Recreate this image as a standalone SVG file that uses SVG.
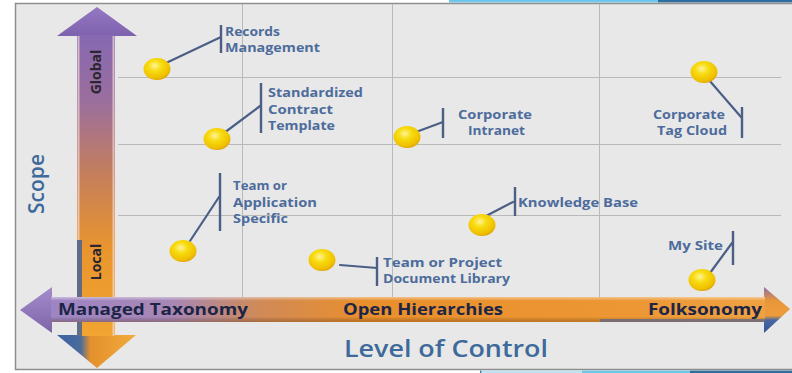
<svg xmlns="http://www.w3.org/2000/svg" width="792" height="373" viewBox="0 0 792 373">
  <style>
    .grid { stroke: #b9b9b9; stroke-width: 1; fill: none; }
    .lead { stroke: #4b5f86; stroke-width: 2.2; fill: none; stroke-linecap: round; }
    .brk { stroke: #4b5f86; stroke-width: 2.4; fill: none; }
    .lbl { font-family: "Open Sans", "Liberation Sans", sans-serif; font-weight: 700; font-size: 12px; fill: #4d6c9c; }
    .axis { font-family: "Open Sans", "Liberation Sans", sans-serif; font-weight: 700; font-size: 16px; fill: #1d2546; }
    .tick { font-family: "Open Sans", "Liberation Sans", sans-serif; font-weight: 700; font-size: 14px; fill: #2b2630; }
    .title { font-family: "Open Sans", "Liberation Sans", sans-serif; font-weight: 600; font-size: 24px; fill: #3d6a9b; }
  </style>
  <defs>
    <radialGradient id="dot" cx="0.42" cy="0.35" r="0.7">
      <stop offset="0" stop-color="#fff39a"/>
      <stop offset="0.35" stop-color="#f8dc10"/>
      <stop offset="0.8" stop-color="#efbf00"/>
      <stop offset="1" stop-color="#d99a00"/>
    </radialGradient>
    <linearGradient id="vshaft" x1="0" y1="36" x2="0" y2="340" gradientUnits="userSpaceOnUse">
      <stop offset="0" stop-color="#8668b2"/>
      <stop offset="0.22" stop-color="#9c6f9c"/>
      <stop offset="0.45" stop-color="#c47e5c"/>
      <stop offset="0.7" stop-color="#e9952e"/>
      <stop offset="1" stop-color="#f2a632"/>
    </linearGradient>
    <linearGradient id="vtop" x1="0" y1="7" x2="0" y2="36" gradientUnits="userSpaceOnUse">
      <stop offset="0" stop-color="#9478c2"/>
      <stop offset="1" stop-color="#7e62ae"/>
    </linearGradient>
    <linearGradient id="vbot" x1="57" y1="0" x2="136" y2="0" gradientUnits="userSpaceOnUse">
      <stop offset="0" stop-color="#3a62a4"/>
      <stop offset="0.3" stop-color="#4a6c9c"/>
      <stop offset="0.42" stop-color="#e4902c"/>
      <stop offset="1" stop-color="#f2ab3c"/>
    </linearGradient>
    <linearGradient id="hshaft" x1="20" y1="0" x2="790" y2="0" gradientUnits="userSpaceOnUse">
      <stop offset="0" stop-color="#9a84c8"/>
      <stop offset="0.2" stop-color="#a887b4"/>
      <stop offset="0.31" stop-color="#d08a58"/>
      <stop offset="0.45" stop-color="#e98f2c"/>
      <stop offset="0.8" stop-color="#ec9734"/>
      <stop offset="1" stop-color="#f0a446"/>
    </linearGradient>
    <linearGradient id="hband" x1="0" y1="297" x2="0" y2="322" gradientUnits="userSpaceOnUse">
      <stop offset="0" stop-color="#ffffff" stop-opacity="0.45"/>
      <stop offset="0.15" stop-color="#ffffff" stop-opacity="0"/>
      <stop offset="0.8" stop-color="#000000" stop-opacity="0"/>
      <stop offset="1" stop-color="#6a3a10" stop-opacity="0.35"/>
    </linearGradient>
    <linearGradient id="hright" x1="0" y1="287" x2="0" y2="333" gradientUnits="userSpaceOnUse">
      <stop offset="0" stop-color="#8c6ca8"/>
      <stop offset="0.3" stop-color="#e8963a"/>
      <stop offset="0.62" stop-color="#ee9c3a"/>
      <stop offset="0.72" stop-color="#4a66a0"/>
      <stop offset="1" stop-color="#34559a"/>
    </linearGradient>
    <linearGradient id="hleft" x1="0" y1="287" x2="0" y2="333" gradientUnits="userSpaceOnUse">
      <stop offset="0" stop-color="#a48ccc"/>
      <stop offset="1" stop-color="#7c64a8"/>
    </linearGradient>
  </defs>

  <!-- page edge strips -->
  <rect x="0" y="0" width="792" height="373" fill="#ffffff"/>
  <rect x="449" y="0" width="209" height="2.5" fill="#6ec6ea"/>
  <rect x="658" y="0" width="134" height="2.5" fill="#2f6d9f"/>
  <rect x="482" y="370.5" width="100" height="2.5" fill="#bfe3f3"/>
  <rect x="582" y="370.5" width="108" height="2.5" fill="#6ec6ea"/>
  <rect x="690" y="370.5" width="102" height="2.5" fill="#2f6d9f"/>
  <rect x="480" y="370.5" width="1.5" height="2.5" fill="#3a7ab0"/>

  <!-- chart panel -->
  <rect x="15.5" y="3.5" width="780" height="366" fill="#e8e8e8" stroke="#8e8e8e" stroke-width="1.5"/>

  <!-- grid -->
  <g id="grid">
    <line class="grid" x1="118" y1="77.5" x2="781" y2="77.5"/>
    <line class="grid" x1="118" y1="144.5" x2="781" y2="144.5"/>
    <line class="grid" x1="118" y1="215.5" x2="781" y2="215.5"/>
    <line class="grid" x1="242.5" y1="4" x2="242.5" y2="297"/>
    <line class="grid" x1="392.5" y1="4" x2="392.5" y2="297"/>
    <line class="grid" x1="599.5" y1="4" x2="599.5" y2="297"/>
  </g>

  <!-- scope axis (vertical double arrow) -->
  <g id="scope-axis">
    <polygon points="57,36 97,7 137,36" fill="url(#vtop)"/>
    <polygon points="57,335 136,335 97,368" fill="url(#vbot)"/>
    <rect x="77" y="35" width="38" height="301" fill="url(#vshaft)"/>
    <rect x="77" y="240" width="5" height="96" fill="#3f5f9c" opacity="0.8"/>
    <line x1="78.5" y1="36" x2="78.5" y2="240" stroke="#f4dcd6" stroke-width="2" opacity="0.7"/>
    <line x1="113.5" y1="36" x2="113.5" y2="336" stroke="#f4dcd6" stroke-width="2" opacity="0.7"/>
    <text class="tick" transform="translate(101,72) rotate(-90)" text-anchor="middle">Global</text>
    <text class="tick" transform="translate(101,262) rotate(-90)" text-anchor="middle">Local</text>
    <text class="title" transform="translate(44,184) rotate(-90)" text-anchor="middle" style="font-size:21px">Scope</text>
  </g>

  <!-- control axis (horizontal double arrow) -->
  <g id="control-axis">
    <polygon points="52,287 20,310 52,333" fill="url(#hleft)"/>
    <polygon points="764,287 790,309 764,333" fill="url(#hright)"/>
    <rect x="51" y="297" width="714" height="25" fill="url(#hshaft)"/>
    <rect x="51" y="297" width="714" height="25" fill="url(#hband)"/>
    <rect x="600" y="319" width="165" height="3" fill="#4a64a0" opacity="0.6"/>
    <text class="axis" x="58" y="315" textLength="190" lengthAdjust="spacingAndGlyphs">Managed Taxonomy</text>
    <text class="axis" x="343" y="315" textLength="160" lengthAdjust="spacingAndGlyphs">Open Hierarchies</text>
    <text class="axis" x="648" y="315" textLength="114" lengthAdjust="spacingAndGlyphs">Folksonomy</text>
    <text class="title" x="344" y="357" textLength="204" lengthAdjust="spacingAndGlyphs">Level of Control</text>
  </g>

  <!-- callout leaders and brackets -->
  <g id="connectors">
    <line class="lead" x1="166" y1="63" x2="221" y2="37"/>
    <line class="brk" x1="221" y1="25" x2="221" y2="53"/>
    <line class="lead" x1="224" y1="133" x2="260" y2="106"/>
    <line class="brk" x1="261" y1="83" x2="261" y2="133"/>
    <line class="lead" x1="416" y1="132" x2="443" y2="122"/>
    <line class="brk" x1="443" y1="108" x2="443" y2="138"/>
    <line class="lead" x1="709" y1="80" x2="741" y2="117"/>
    <line class="brk" x1="742" y1="107" x2="742" y2="138"/>
    <line class="lead" x1="190" y1="241" x2="219" y2="197"/>
    <line class="brk" x1="220" y1="173" x2="220" y2="231"/>
    <line class="lead" x1="340" y1="265" x2="377" y2="268"/>
    <line class="brk" x1="377" y1="257" x2="377" y2="286"/>
    <line class="lead" x1="486" y1="216" x2="513" y2="202"/>
    <line class="brk" x1="515" y1="187" x2="515" y2="216"/>
    <line class="lead" x1="710" y1="273" x2="732" y2="243"/>
    <line class="brk" x1="733" y1="231" x2="733" y2="265"/>
  </g>

  <!-- items -->
  <g id="records-management">
    <ellipse cx="157" cy="69" rx="13.5" ry="11" fill="url(#dot)"/>
    <text class="lbl" x="225" y="36" textLength="55" lengthAdjust="spacingAndGlyphs">Records</text>
    <text class="lbl" x="225" y="52" textLength="95" lengthAdjust="spacingAndGlyphs">Management</text>
  </g>
  <g id="standardized-contract-template">
    <ellipse cx="217" cy="139" rx="13.5" ry="11" fill="url(#dot)"/>
    <text class="lbl" x="268" y="97" textLength="95" lengthAdjust="spacingAndGlyphs">Standardized</text>
    <text class="lbl" x="268" y="114" textLength="65" lengthAdjust="spacingAndGlyphs">Contract</text>
    <text class="lbl" x="268" y="130" textLength="67" lengthAdjust="spacingAndGlyphs">Template</text>
  </g>
  <g id="corporate-intranet">
    <ellipse cx="407" cy="137" rx="13.5" ry="11" fill="url(#dot)"/>
    <text class="lbl" x="458" y="119" textLength="74" lengthAdjust="spacingAndGlyphs">Corporate</text>
    <text class="lbl" x="468" y="135" textLength="57" lengthAdjust="spacingAndGlyphs">Intranet</text>
  </g>
  <g id="corporate-tag-cloud">
    <ellipse cx="704" cy="72" rx="13.5" ry="11" fill="url(#dot)"/>
    <text class="lbl" x="653" y="119" textLength="72" lengthAdjust="spacingAndGlyphs">Corporate</text>
    <text class="lbl" x="657" y="135" textLength="70" lengthAdjust="spacingAndGlyphs">Tag Cloud</text>
  </g>
  <g id="team-or-application-specific">
    <ellipse cx="183" cy="251" rx="13.5" ry="11" fill="url(#dot)"/>
    <text class="lbl" x="233" y="190" textLength="54" lengthAdjust="spacingAndGlyphs">Team or</text>
    <text class="lbl" x="233" y="207" textLength="84" lengthAdjust="spacingAndGlyphs">Application</text>
    <text class="lbl" x="233" y="223" textLength="55" lengthAdjust="spacingAndGlyphs">Specific</text>
  </g>
  <g id="team-or-project-document-library">
    <ellipse cx="322" cy="260" rx="13.5" ry="11" fill="url(#dot)"/>
    <text class="lbl" x="383" y="267" textLength="119" lengthAdjust="spacingAndGlyphs">Team or Project</text>
    <text class="lbl" x="383" y="283" textLength="127" lengthAdjust="spacingAndGlyphs">Document Library</text>
  </g>
  <g id="knowledge-base">
    <ellipse cx="482" cy="225" rx="13.5" ry="11" fill="url(#dot)"/>
    <text class="lbl" x="518" y="207" textLength="120" lengthAdjust="spacingAndGlyphs">Knowledge Base</text>
  </g>
  <g id="my-site">
    <ellipse cx="702" cy="280" rx="13.5" ry="11" fill="url(#dot)"/>
    <text class="lbl" x="668" y="250" textLength="55" lengthAdjust="spacingAndGlyphs">My Site</text>
  </g>
</svg>
